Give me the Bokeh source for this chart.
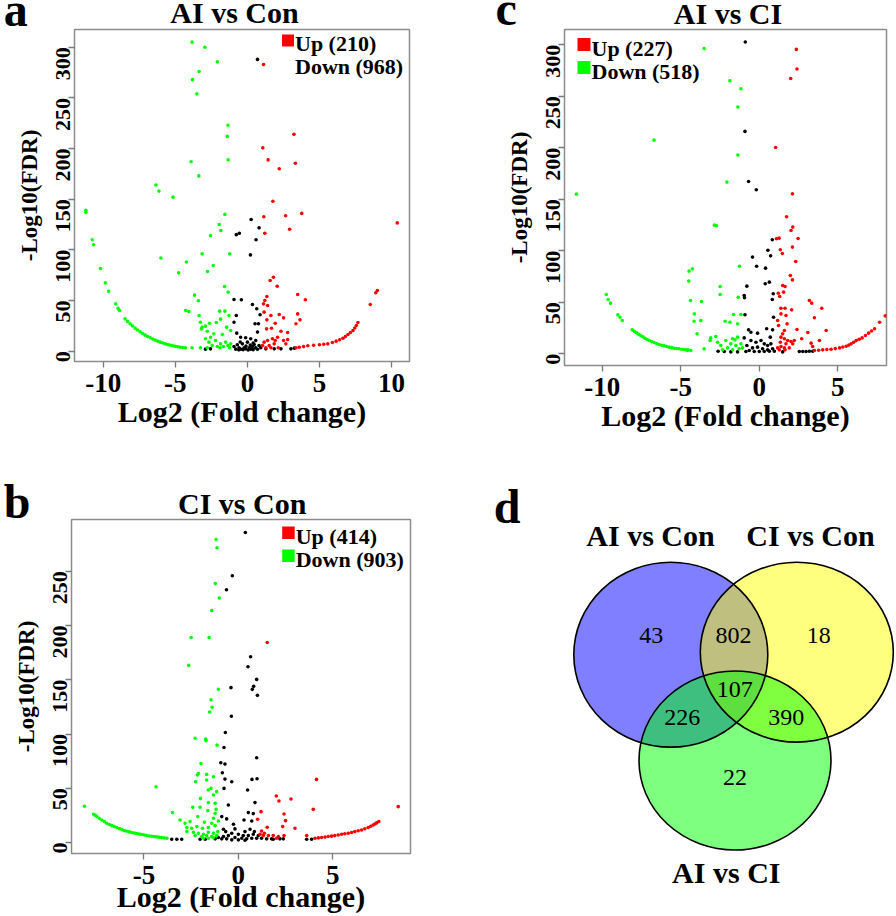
import math
from bokeh.plotting import figure
from bokeh.models import Range1d, FixedTicker, Label, BoxAnnotation
from bokeh.layouts import row, column
from bokeh.embed import file_html
from bokeh.resources import INLINE
from bokeh.core.properties import value

SERIF = "Liberation Serif"
RED = "#FF0000"
GREEN = "#00FF00"
BLACK = "#000000"

# ---------------- DATA : panel a (AI vs Con) ----------------
a_up = [(1.12,283),(3.23,214),(1.07,200.7),(1.44,188.8),(3.33,185.5),(2.21,180),(1.77,148),(2.65,133.6),
        (3.77,136),(1.14,132.6),(1.21,116.4),(2.93,120.4),(10.4,126.6),
        (1.81,73),(1.58,69.7),(2.07,64.1),(1.35,54),(1.21,50),(1.12,46.7),(1.40,45),(1.16,38.5),(1.63,35.2),
        (2.21,36.2),(2.51,32.9),(1.93,27.6),(1.35,30.9),(1.33,22),(1.67,22.7),(2.33,19.7),(2.79,18.4),
        (3.49,55.9),(4.02,50.7),(3.49,36.8),(3.65,30.9),(3.37,27),(2.09,13.8),(1.74,12.2),(1.40,10.5),
        (1.16,8.9),(1.05,5.6),(1.51,5.6),(1.86,7.2),(1.93,10.5),(2.51,10.5),(2.79,11.5),(2.67,7.2),
        (2.14,3.3),(1.63,3.3),(1.28,3.3),(8.53,46),(8.91,57.6),(9.02,59.9),
        (3.37,3.3),(3.6,3.8),(3.9,4.5),(4.19,5.3),(4.6,5.8),(5.0,6.3),(5.3,6.8),(5.58,7.2),(5.9,8.5),
        (6.16,9.9),(6.4,11.3),(6.63,12.8),(6.8,14.5),(6.98,16.4),(7.15,18.4),(7.33,20.4),(7.45,22.8),
        (7.56,25.3),(7.67,28.3)]
a_down = [(-3.84,305),(-2.95,300),(-2.09,285.5),(-3.35,276),(-3.81,268),(-3.51,254),(-1.35,223),(-1.40,212),
          (-1.33,189),(-3.91,187),(-3.37,173),(-6.35,164),(-6.14,158),(-5.16,152),(-11.21,139),(-11.21,137),
          (-1.56,135),(-1.95,125),(-1.84,119),(-2.56,114),(-10.77,110),(-10.67,105),(-3.14,96),(-1.23,96),
          (-6.0,92),(-4.23,88),(-2.37,84.5),(-10.19,81.6),
          (-4.77,77.3),(-2.77,78.6),(-9.86,67.4),(-9.63,59.2),(-9.14,46.7),(-8.98,42.4),(-8.88,40.1),
          (-3.84,3.3),(-3.26,3.3),(-3.67,55.3),(-3.40,49.7),(-4.28,40.1),(-4.07,39.1),(-3.35,35.2),
          (-3.26,28.6),(-3.14,23.7),(-3.19,22),(-2.91,24.7),(-2.63,27.6),(-2.79,19.7),(-2.16,28.3),
          (-1.86,31.6),(-1.93,39.5),(-1.56,39.5),(-1.58,63.8),(-1.33,58.2),(-1.28,35.2),(-1.44,23.7),
          (-1.16,20.4),(-1.74,16.4),(-2.33,17.1),(-2.56,13.8),(-2.91,12.2),(-2.67,8.9),(-2.21,10.5),
          (-1.86,7.2),(-1.51,8.9),(-1.35,5.6),(-1.16,7.2),(-2.44,5.6),(-2.09,4.6),(-1.67,4.6),(-2.79,3.3),
          (-1.91,3.3),(-1.23,3.3),
          (-8.49,31.9),(-8.32,29.4),(-8.14,27.0),(-7.97,24.8),(-7.79,22.7),(-7.62,20.9),(-7.44,19.1),
          (-7.27,17.4),(-7.09,15.8),(-6.92,14.5),(-6.74,13.2),(-6.57,12.0),(-6.40,10.9),(-6.22,9.9),
          (-6.05,8.9),(-5.87,8.0),(-5.70,7.2),(-5.52,6.5),(-5.35,5.9),(-5.17,5.4),(-5.00,4.9),(-4.82,4.4),
          (-4.65,3.9),(-4.47,3.6),(-4.30,3.3)]
a_ns = [(0.70,288),(-0.77,115),(-0.56,116.4),(0.26,130),(0.81,121.7),(0.60,110),(0.21,95),
        (-0.93,51),(-0.42,50.7),(0.35,46),(0.65,41.8),(-0.77,35.2),(0.88,35.9),(0.77,27),(0.53,27),
        (-0.93,28.6),(0.70,18.8),(-0.74,17.8),(-0.47,13.8),(-0.12,13.2),(0.23,12.2),(0.58,10.5),(0,8.9),
        (-0.35,7.2),(-0.70,6.3),(0.47,6.6),(0.81,5.6),(-0.93,4.6),(-0.58,3.3),(-0.23,3.3),(0.12,3.3),
        (0.35,4.6),(0.58,3.3),(-0.12,2.3),(-0.47,2.0),(0.23,2.0),(-0.81,2.0),(0.93,3.3),(1.28,2.3),
        (1.86,2.3),(2.33,2.3),(3.02,2.3),(3.26,3.0),(-2.91,2.0),(-2.56,2.3),(-0.3,1.5),(0.05,1.2),
        (0.4,1.5),(-0.6,1.3),(0.7,1.8),(-0.1,5),(0.2,6),(-0.5,9),(0.4,8)]

# ---------------- DATA : panel c (AI vs CI) ----------------
c_up = [(2.36,295.5),(2.40,276.4),(2.0,267.3),(1.04,200.3),(2.11,155.3),(1.74,133),(2.13,123),(2.02,119.7),
        (1.09,111.7),(1.26,112.3),(2.47,112),(2.11,103.6),(1.34,101),(1.47,97.4),(2.32,89.6),
        (1.98,76),(2.11,71.8),(1.49,66.3),(1.64,65.4),(1.21,58.9),(1.55,59.9),(1.30,55.7),(3.19,51.8),
        (3.34,49.2),(1.38,44.3),(1.64,44.3),(2.06,42.7),(1.38,38.8),(1.70,37.2),(3.98,44.3),(3.51,35),
        (1.17,32.4),(1.77,29.1),(1.23,27.5),(4.26,22.7),(2.40,23.6),(3.09,20.7),(1.60,22.7),(1.49,19.4),
        (1.38,16.2),(1.60,14.6),(1.81,12.9),(2.02,12.0),(2.23,12.9),(1.34,11.3),(1.70,9.7),(2.13,9.7),
        (1.38,7.1),(1.17,5.8),(1.60,5.8),(1.91,5.8),(1.28,3.9),(1.64,3.9),(2.70,14.6),(3.30,10.4),
        (3.83,12.9),(3.40,7.1),
        (3.51,3.2),(3.78,3.5),(4.04,3.9),(4.30,4.2),(4.57,4.5),(4.84,5.1),(5.11,5.8),(5.32,6.6),(5.53,7.4),
        (5.70,8.5),(5.85,9.7),(6.01,11.3),(6.17,12.9),(6.36,14.2),(6.55,15.5),(6.76,17.8),(6.96,20.1),
        (7.15,22.2),(7.34,24.3),(7.66,30.7),(8.02,36.9)]
c_down = [(-3.51,296.4),(-1.87,265),(-1.17,257.3),(-1.36,239.5),(-6.70,207.4),(-1.36,192.9),(-2.06,166.7),
          (-11.64,155),(-2.85,124.9),(-2.72,124.3),(-4.26,82.5),(-1.26,85.1),
          (-4.47,80.3),(-4.49,70.6),(-4.38,51.8),(-3.68,50.8),(-4.13,38.8),(-4.15,31.7),(-3.72,32.4),
          (-3.96,19.4),(-3.51,4.9),(-2.49,65.4),(-2.49,57.6),(-1.34,55),(-1.64,38.2),(-2.17,31.7),
          (-1.87,30.7),(-1.38,29.1),(-1.17,38.2),(-3.09,15.5),(-3.13,12.9),(-2.77,16.8),(-2.66,11.3),
          (-2.45,8.1),(-2.13,12.9),(-2.02,5.8),(-1.81,9.7),(-1.70,14.6),(-1.55,13.6),(-1.38,16.2),
          (-1.49,8.1),(-1.28,4.9),(-1.17,9.7),(-1.06,5.8),(-2.34,3.9),(-1.70,3.9),(-4.57,3.2),(-4.36,3.2),
          (-9.74,57.6),(-9.62,52.8),(-9.47,49.2),(-9.0,37.9),(-8.87,35.6),(-8.72,32.4),
          (-8.09,23.3),(-7.95,21.8),(-7.81,20.4),(-7.68,19.1),(-7.55,17.8),(-7.41,16.5),(-7.28,15.2),
          (-7.14,14.0),(-7.0,12.9),(-6.85,11.9),(-6.70,11.0),(-6.54,10.0),(-6.38,9.1),(-6.22,8.4),
          (-6.06,7.8),(-5.90,7.1),(-5.74,6.5),(-5.58,6.0),(-5.43,5.5),(-5.27,5.2),(-5.11,4.9),(-4.95,4.5),
          (-4.79,4.2),(-4.66,4.0),(-4.53,3.9)]
c_ns = [(-0.89,302.6),(-0.91,215.9),(-0.68,167.3),(-0.19,159.2),(0.83,110.7),(0.55,100.6),(0.72,95.1),
        (-0.43,93.9),(-0.17,85.1),(0.40,83.2),(-0.79,65.7),(0.38,68),(0.64,69.6),(-0.96,56.6),(-0.94,54.4),
        (0.89,58.3),(0.83,52.8),(-0.91,37.9),(0.91,35.6),(-0.68,23.3),(-0.53,21),(-0.11,20.1),(0.47,24.3),
        (0.85,23.3),(0.70,16.2),(-0.96,15.5),(-0.53,12.9),(-0.21,11.3),(0.11,12.9),(0.32,9.7),(0.53,8.1),
        (0.74,9.7),(-0.79,8.1),(-0.43,5.8),(-0.11,6.5),(0.21,4.9),(0.53,3.9),(0.85,4.9),(-0.64,3.2),
        (-0.32,2.3),(0,2.3),(0.32,2.3),(0.64,2.6),(-0.85,2.3),(-2.62,2.6),(-2.23,2.3),(-1.81,1.9),
        (-1.38,1.9),(0.96,2.6),(1.49,1.9),(2.55,2.3),(2.77,2.3),(2.98,2.3),(3.19,2.6),(3.40,2.6)]

# ---------------- DATA : panel b (CI vs Con) ----------------
b_up = [(1.53,184.4),(4.14,58.2),(3.97,30.6),(8.47,33.1),(2.01,42.9),(2.15,38.3),(2.79,40.1),(1.20,28.5),
        (1.02,21.4),(2.42,26.3),(2.50,20.2),(2.35,14.7),(3.00,13.2),(1.53,14.1),(1.23,10.7),(1.38,8.6),
        (1.15,7.7),(1.32,6.4),(1.59,6.4),(1.85,6.4),(2.12,5.5),(2.42,6.4),(2.03,4.0),(3.62,6.4),
        (4.06,4.0),(4.24,4.3),(4.41,4.6),(4.59,5.0),(4.76,5.5),(4.94,5.9),(5.11,6.4),(5.29,7.0),(5.47,7.7),
        (5.64,8.1),(5.82,8.6),(6.0,9.3),(6.17,10.1),(6.35,10.8),(6.53,11.6),(6.70,12.7),(6.88,13.8),
        (7.01,15.0),(7.14,16.2),(7.23,17.1),(7.32,18.1),(7.44,19.3)]
b_down = [(-1.18,279.4),(-1.13,271.8),(-1.22,238.7),(-1.01,225.5),(-1.41,213.8),(-2.50,189),(-1.55,189),
          (-2.63,163.3),(-1.06,141.2),(-1.45,131.7),(-1.39,124.7),(-1.52,120.4),(-2.29,96.2),(-1.73,95.3),
          (-1.71,94),(-1.13,89.8),(-4.36,51.5),(-1.98,72.9),(-2.12,63.7),(-2.17,62.2),(-1.68,62.8),
          (-1.32,60.7),(-2.26,56.1),(-1.68,57.6),(-1.59,48.4),(-1.45,49.9),(-1.15,46.9),(-1.32,43.8),
          (-2.01,40.7),(-1.59,36.8),(-1.23,36.2),(-2.42,32.5),(-2.03,32.5),(-1.62,29.4),(-1.18,30.6),
          (-1.23,27),(-3.49,27.6),(-3.09,20.8),(-2.82,17.8),(-2.56,19.3),(-2.15,23.9),(-1.80,18.7),
          (-1.32,22.4),(-1.06,19.9),(-1.41,17.8),(-2.73,13.8),(-2.47,13.2),(-2.20,14.7),(-1.90,13.2),
          (-1.59,13.8),(-1.23,15.6),(-2.73,10.1),(-2.38,9.5),(-2.12,8.6),(-1.85,7.7),(-1.59,9.5),
          (-1.32,8.6),(-1.09,10.1),(-2.29,6.4),(-1.94,5.5),(-1.68,6.4),(-1.41,5.5),(-1.15,6.4),(-1.59,4.0),
          (-1.85,4.0),(-1.32,4.6),
          (-8.15,33.4),(-7.67,26.0),(-7.58,25.0),(-7.50,23.9),(-7.37,22.3),(-7.23,20.8),(-7.10,19.3),
          (-6.97,17.8),(-6.83,16.7),(-6.70,15.6),(-6.57,14.7),(-6.44,13.8),(-6.30,12.8),(-6.17,11.9),
          (-6.04,11.1),(-5.91,10.4),(-5.77,9.8),(-5.64,9.2),(-5.51,8.7),(-5.38,8.3),(-5.24,7.8),(-5.11,7.4),
          (-4.98,6.9),(-4.85,6.4),(-4.72,6.1),(-4.59,5.8),(-4.45,5.5),(-4.32,5.2),(-4.19,4.9),(-4.06,4.6),
          (-3.92,4.3),(-3.79,4.0)]
b_ns = [(0.37,285.8),(-0.32,246),(-0.63,233.1),(0.65,171.3),(0.51,162.1),(0.97,150.4),(0.81,144),(0.74,141.2),
        (1.01,135.7),(-0.39,142.8),(-0.37,116.4),(-0.69,101.4),(-0.76,87.6),(0.97,78.1),
        (-0.93,73.5),(-0.71,72.3),(-0.85,64.3),(-0.71,58.5),(-0.35,56.1),(0.72,58.2),(0.99,58.8),(0.49,48.4),
        (-0.76,49.9),(0.88,36.8),(-0.53,34.6),(0.53,27.6),(0.79,26.7),(-0.88,23.9),(-0.62,21.8),(0.30,20.8),
        (0.71,19.9),(-0.26,16.9),(-0.18,12.6),(-0.79,12.3),(-0.67,10.1),(0.62,12.3),(0.85,10.1),(0.35,10.1),
        (-0.35,8.6),(0,7.7),(0.26,6.4),(0.53,6.4),(0.79,7.7),(1.06,6.4),(-0.53,6.4),(-0.79,5.5),(-1.06,4.6),
        (-0.18,4.6),(0.18,4.0),(0.44,3.4),(0.71,4.0),(0.97,4.0),(1.23,4.0),(1.50,3.4),(1.76,3.4),(-0.62,3.4),
        (-0.88,3.4),(-1.23,3.4),(-1.76,3.1),(-2.03,3.1),(-3.26,3.1),(-3.53,3.1),(-3.0,3.1),(1.85,3.1),
        (2.20,3.4),(2.38,3.4),(3.62,3.1),(3.88,3.1),(0,2.5),(-0.35,2.5),(0.35,2.1)]

# ---------------- DATA : Venn (panel d) ----------------
venn_sets = ["AI vs Con", "CI vs Con", "AI vs CI"]
venn_counts = [43, 802, 18, 107, 226, 390, 22]

# legends
a_legend = [("Up (210)", RED, True), ("Down (968)", GREEN, False)]
b_legend = [("Up (414)", RED, True), ("Down (903)", GREEN, True)]
c_legend = [("Up (227)", RED, True), ("Down (518)", GREEN, True)]

x_label = "Log2 (Fold change)"
y_label = "-Log10(FDR)"

# observed offset of the rendered baseline (fraction of the font size)
GLYPH_BASE = 0.34
LABEL_BASE = 4.5


def xs(pts):
    return [p[0] for p in pts]


def ys(pts):
    return [p[1] for p in pts]


def no_align(p):
    try:
        p.frame_align = False
    except Exception:
        pass


def put_text(fig, x, y, texts, size, bold, align="center"):
    # y is the wanted baseline (page pixels, y downwards)
    fig.text(x=x, y=[v - GLYPH_BASE * size for v in y], text=texts, text_font=value(SERIF),
             text_font_size=f"{size}px", text_font_style="bold" if bold else "normal",
             text_align=align, text_baseline="alphabetic", text_color="black")


def blank(width, height, x0, y0):
    # a figure without axes whose data units are page pixels
    h = figure(width=width, height=height, x_range=Range1d(x0, x0 + width),
               y_range=Range1d(y0 + height, y0), output_backend="svg", toolbar_location=None,
               x_axis_location=None, y_axis_location=None, title=None,
               min_border_left=0, min_border_right=0, min_border_top=0, min_border_bottom=0)
    h.grid.visible = False
    h.outline_line_color = None
    h.background_fill_color = "white"
    h.border_fill_color = "white"
    no_align(h)
    return h


def header(width, height, x0, y0, letter, letter_pos, title, title_pos):
    h = blank(width, height, x0, y0)
    put_text(h, [letter_pos[0]], [letter_pos[1]], [letter], 48, True, "left")
    put_text(h, [title_pos[0]], [title_pos[1]], [title], 30, True, "center")
    return h


def make_volcano(width, height, origin, frame, xr, yr, xt, yt, ns, down, up,
                 legend, legend_pos, xtick_std, xlab_std):
    ox, oy = origin
    fx0, fy0, fx1, fy1 = frame
    p = figure(width=width, height=height, x_range=Range1d(*xr), y_range=Range1d(*yr),
               output_backend="svg", toolbar_location=None, title=None,
               min_border_left=fx0 - ox, min_border_right=ox + width - fx1,
               min_border_top=fy0 - oy, min_border_bottom=oy + height - fy1)
    no_align(p)
    p.xgrid.visible = False
    p.ygrid.visible = False
    p.outline_line_color = "#8c8c8c"
    p.outline_line_width = 1.5
    p.background_fill_color = "white"
    p.border_fill_color = "white"
    p.xaxis.ticker = FixedTicker(ticks=xt)
    p.yaxis.ticker = FixedTicker(ticks=yt)
    p.xaxis.major_label_overrides = {t: str(t) for t in xt}
    p.yaxis.major_label_overrides = {t: str(t) for t in yt}
    for ax in (p.xaxis[0], p.yaxis[0]):
        ax.axis_line_color = None
        ax.major_tick_line_color = "#7a7a7a"
        ax.major_tick_line_width = 1.3
        ax.major_tick_out = 6
        ax.major_tick_in = 0
        ax.minor_tick_line_color = None
        ax.major_label_text_font = SERIF
        ax.major_label_text_font_style = "bold"
        ax.axis_label_text_font = SERIF
        ax.axis_label_text_font_style = "bold"
        ax.major_label_text_color = "black"
        ax.axis_label_text_color = "black"
    p.xaxis.axis_label = x_label
    p.yaxis.axis_label = y_label
    p.xaxis.major_label_text_font_size = "27px"
    p.xaxis.major_label_standoff = xtick_std
    p.xaxis.axis_label_text_font_size = "30px"
    p.xaxis.axis_label_standoff = xlab_std
    p.yaxis.major_label_text_font_size = "22px"
    p.yaxis.major_label_orientation = math.pi / 2
    p.yaxis.major_label_standoff = 5
    p.yaxis.axis_label_text_font_size = "23px"
    p.yaxis.axis_label_standoff = 5

    p.scatter(xs(ns), ys(ns), size=3.6, color=BLACK, line_color=None)
    p.scatter(xs(down), ys(down), size=3.6, color=GREEN, line_color=None)
    p.scatter(xs(up), ys(up), size=3.6, color=RED, line_color=None)

    sq_x, sq_y0, row_h, sq = legend_pos
    for i, (txt, col, show) in enumerate(legend):
        top = sq_y0 + i * row_h
        if show:
            p.add_layout(BoxAnnotation(left=sq_x - fx0, right=sq_x + sq - fx0,
                                       top=fy1 - top, bottom=fy1 - (top + sq),
                                       left_units="screen", right_units="screen",
                                       top_units="screen", bottom_units="screen",
                                       fill_color=col, fill_alpha=1.0, line_color=None))
        base = top + sq + 1.5 - LABEL_BASE
        p.add_layout(Label(x=sq_x + sq + 1 - fx0, y=fy1 - base, x_units="screen",
                           y_units="screen", text=txt, text_font=SERIF, text_font_size="22px",
                           text_font_style="bold", text_align="left", text_baseline="alphabetic",
                           text_color="black"))
    return p


# ---- column 1 (page x 0..450) ----
hdr_a = header(450, 27, 0, 0, "a", (3.3, 25.7), "AI vs Con", (234, 21.7))
pa = make_volcano(450, 429, (0, 27), (74, 29, 409, 361), (-12.0, 11.25), (-10.2, 317.5),
                  [-10, -5, 0, 5, 10], [0, 50, 100, 150, 200, 250, 300],
                  a_ns, a_down, a_up, a_legend, (281.5, 34, 22.5, 12), 6, 0)
hdr_b = header(450, 62, 0, 456, "b", (3.3, 517.5), "CI vs Con", (241.7, 513.3))
pb = make_volcano(450, 398, (0, 518), (71, 519, 410, 853), (-8.84, 9.12), (-10.1, 297.8),
                  [-5, 0, 5], [0, 50, 100, 150, 200, 250],
                  b_ns, b_down, b_up, b_legend, (281.7, 526, 23, 12.5), 6, -7)

# ---- column 2 (page x 450..896) ----
hdr_c = header(446, 27, 450, 0, "c", (495, 24), "AI vs CI", (727.5, 22.7))
pc = make_volcano(446, 443, (450, 27), (564, 29, 886, 365), (-12.4, 8.1), (-11.3, 314.8),
                  [-10, -5, 0, 5], [0, 50, 100, 150, 200, 250, 300],
                  c_ns, c_down, c_up, c_legend, (577, 37.5, 23, 13), 6, 0)

# ---- Venn (page x 450..896, y 470..916) ----
pd_ = blank(446, 446, 450, 470)
circ_x = [670.3, 796.3, 734.5]
circ_y = [654.2, 651.7, 760.0]
circ_w = [194, 193, 192]
circ_h = [185, 180, 179]
circ_fill = ["#0000FF", "#FFFF00", "#00FF00"]
for i in range(3):
    pd_.ellipse(x=[circ_x[i]], y=[circ_y[i]], width=[circ_w[i]], height=[circ_h[i]],
                fill_color=circ_fill[i], fill_alpha=0.5, line_color=None)
pd_.ellipse(x=circ_x, y=circ_y, width=circ_w, height=circ_h, fill_color=None,
            line_color="black", line_width=1.6)

num_x = [650.8, 733.0, 818.3, 734.3, 681.7, 785.8, 734.5]
num_y = [643.3, 643.3, 643.3, 696.7, 725.0, 725.0, 785.0]
put_text(pd_, num_x, num_y, [str(c) for c in venn_counts], 24, False, "center")

set_x = [650, 810, 725.8]
set_y = [545, 545, 881.7]
put_text(pd_, set_x, set_y, venn_sets, 30, True, "center")
put_text(pd_, [493.3], [522.7], ["d"], 48, True, "left")

layout = row(column(hdr_a, pa, hdr_b, pb), column(hdr_c, pc, pd_))
open("out.html", "w").write(file_html(layout, INLINE))
